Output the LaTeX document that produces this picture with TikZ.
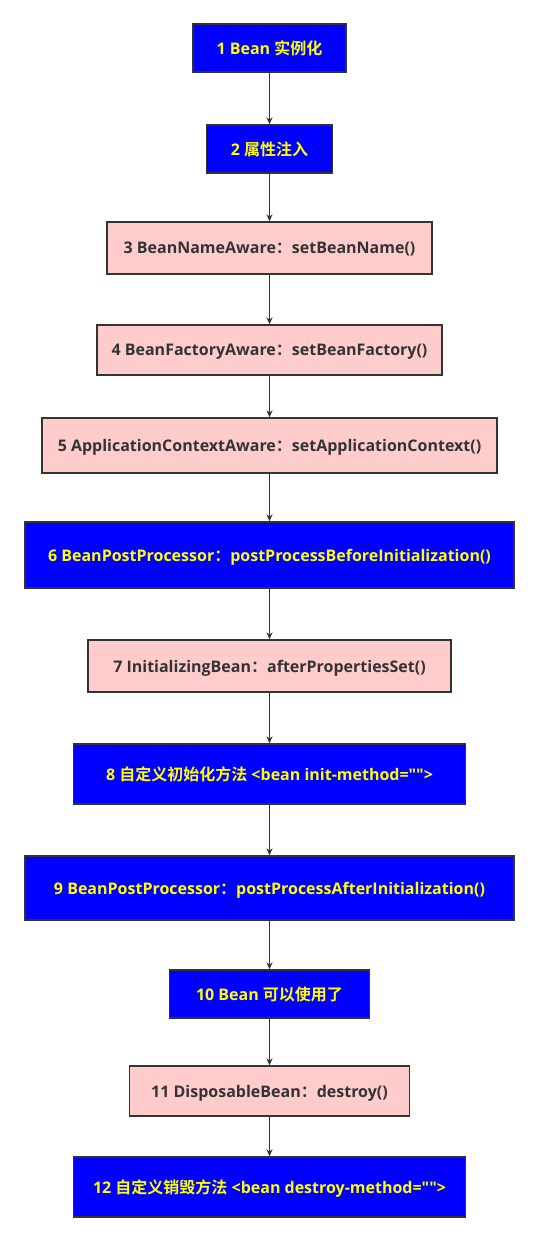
\documentclass[tikz,border=0pt]{standalone}
\usepackage{fontspec}
\setmainfont{Open Sans}[Ligatures=TeXOff]
\newfontfamily\cjk{Noto Sans CJK SC}[BoldFont={* Bold}]
\usepackage{tikz}
\usetikzlibrary{arrows.meta, positioning}

\definecolor{boxblue}{HTML}{0000FF}
\definecolor{boxpink}{HTML}{FFCCCC}
\definecolor{boxline}{HTML}{333333}
\definecolor{txtyellow}{HTML}{FFFF00}

\newcommand{\zh}[1]{{\cjk\bfseries #1}}

\begin{document}
\begin{tikzpicture}[x=1pt, y=-1pt, >={Stealth[length=7pt, width=6pt]}, semithick]
		\tikzstyle{stepblue}=[rectangle, draw=boxline, line width=1.4pt, fill=boxblue, text=txtyellow, font=\bfseries\fontsize{16}{19}\selectfont, inner sep=0pt, text depth=0pt]
		\tikzstyle{steppink}=[rectangle, draw=boxline, line width=1.4pt, fill=boxpink, text=boxline, font=\bfseries\fontsize{16}{19}\selectfont, inner sep=0pt, text depth=0pt]
		\tikzstyle{flow}=[->, draw=boxline, line width=0.9pt]

		\useasboundingbox (0,0) rectangle (539,1242);
		\fill[white] (0,0) rectangle (539,1242);

		\node[stepblue, minimum width=153pt, minimum height=48pt] (S1) at (269.5,48) {1 Bean \zh{实例化}};
		\node[stepblue, minimum width=126pt, minimum height=48pt] (S2) at (269.5,149) {2 \zh{属性注入}};
		\node[steppink, minimum width=325pt, minimum height=52pt] (S3) at (269.5,248) {3 BeanNameAware\zh{：}setBeanName()};
		\node[steppink, minimum width=345pt, minimum height=50pt] (S4) at (269.5,350) {4 BeanFactoryAware\zh{：}setBeanFactory()};
		\node[steppink, minimum width=455pt, minimum height=55pt] (S5) at (269.5,445.5) {5 ApplicationContextAware\zh{：}setApplicationContext()};
		\node[stepblue, minimum width=489pt, minimum height=66pt] (S6) at (269.5,555) {6 BeanPostProcessor\zh{：}postProcessBeforeInitialization()};
		\node[steppink, minimum width=363pt, minimum height=52pt] (S7) at (269.5,666) {7 InitializingBean\zh{：}afterPropertiesSet()};
		\node[stepblue, minimum width=392pt, minimum height=60pt] (S8) at (269.5,774) {8 \zh{自定义初始化方法} <bean init-method="">};
		\node[stepblue, minimum width=489pt, minimum height=64pt] (S9) at (269.5,888) {9 BeanPostProcessor\zh{：}postProcessAfterInitialization()};
		\node[stepblue, minimum width=200pt, minimum height=48pt] (S10) at (269.5,994) {10 Bean \zh{可以使用了}};
		\node[steppink, minimum width=280pt, minimum height=50pt] (S11) at (269.5,1091) {11 DisposableBean\zh{：}destroy()};
		\node[stepblue, minimum width=392pt, minimum height=60pt] (S12) at (269.5,1187) {12 \zh{自定义销毁方法} <bean destroy-method="">};

		% arrows between consecutive steps
		\foreach \a/\b in {S1/S2, S2/S3, S3/S4, S4/S5, S5/S6, S6/S7, S7/S8, S8/S9, S9/S10, S10/S11, S11/S12}
			\draw[flow] (\a.south) -- (\b.north);
	\end{tikzpicture}
\end{document}
